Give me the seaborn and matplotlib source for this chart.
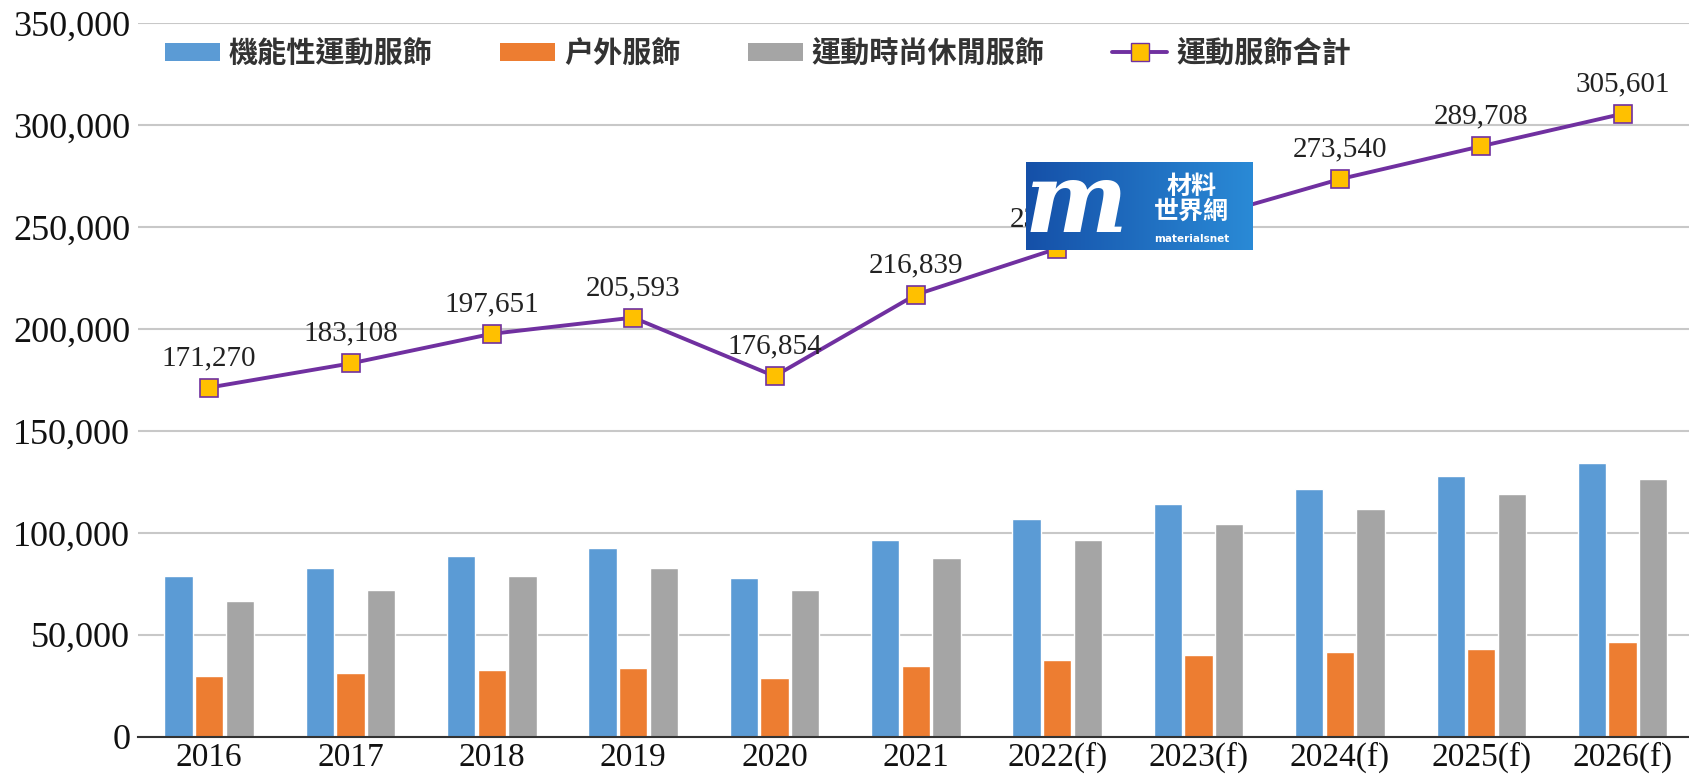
#!/usr/bin/env python3

import numpy as np
import pandas as pd
import matplotlib.pyplot as plt
from matplotlib.lines import Line2D
from matplotlib.patches import Patch
from matplotlib.colors import LinearSegmentedColormap
import seaborn as sns

# Data
years = ['2016', '2017', '2018', '2019', '2020', '2021',
         '2022(f)', '2023(f)', '2024(f)', '2025(f)', '2026(f)']
functional = [78700, 82800, 88500, 92500, 77900, 96400, 106900, 114100, 121500, 127900, 134400]
outdoor = [29500, 31100, 32800, 33600, 28900, 34400, 37700, 40000, 41600, 43100, 46400]
athleisure = [66600, 72100, 78700, 82800, 72100, 87700, 96400, 104400, 111600, 119000, 126200]
total = [171270, 183108, 197651, 205593, 176854, 216839, 239472, 253615, 273540, 289708, 305601]

series_names = ['機能性運動服飾', '户外服飾', '運動時尚休閒服飾']
total_name = '運動服飾合計'
colors = ['#5B9BD5', '#ED7D31', '#A5A5A5']

sns.set_theme(style="white")
plt.rcParams['font.family'] = ['Liberation Serif', 'Noto Sans CJK TC', 'DejaVu Sans']

df = pd.DataFrame({
    'year': years * 3,
    'series': [s for s in series_names for _ in years],
    'value': functional + outdoor + athleisure,
})

fig = plt.figure(figsize=(16.89, 7.77), dpi=100)
ax = fig.add_axes([0.082, 0.052, 0.918, 0.918])

sns.barplot(data=df, x='year', y='value', hue='series', hue_order=series_names,
            palette=colors, width=0.65, gap=0.08, saturation=1, ax=ax,
            legend=False, zorder=2)

x = np.arange(len(years))
sns.lineplot(x=x, y=total, color='#7030A0', linewidth=2.8, marker='s',
             markersize=13, markerfacecolor='#FFC000', markeredgecolor='#7030A0',
             markeredgewidth=1.2, ax=ax, zorder=4)

for xi, v in zip(x, total):
    ax.annotate(f'{v:,}', (xi, v), xytext=(0, 12), textcoords='offset points',
                ha='center', va='bottom', fontsize=21, color='#222222',
                family='Liberation Serif', zorder=5)

ax.set_ylim(0, 350000)
ax.set_xlim(-0.5, 10.47)
ax.set_yticks(range(0, 350001, 50000))
ax.yaxis.set_major_formatter(plt.FuncFormatter(lambda v, p: f'{int(v):,}'))
ax.tick_params(axis='y', labelsize=26, length=0, colors='#111111', pad=6)
ax.tick_params(axis='x', labelsize=24, length=0, colors='#111111', pad=4)
ax.set_xlabel('')
ax.set_ylabel('')
ax.grid(axis='y', color='#C8C8C8', linewidth=1.5, zorder=0)
ax.set_axisbelow(True)
for side in ['left', 'right', 'top']:
    ax.spines[side].set_visible(False)
ax.spines['bottom'].set_color('#333333')
ax.spines['bottom'].set_linewidth(1.5)

# Legend
handles = [Patch(facecolor=c, edgecolor='none') for c in colors]
handles.append(Line2D([0], [0], color='#7030A0', linewidth=2.8, marker='s',
                      markersize=13, markerfacecolor='#FFC000', markeredgecolor='#7030A0'))
leg = ax.legend(handles, series_names + [total_name], ncol=4, frameon=False,
                loc='upper left', bbox_to_anchor=(0.0, 1.016),
                prop={'family': 'Noto Sans CJK TC', 'size': 21, 'weight': 'bold'},
                handlelength=1.9, handleheight=0.6, columnspacing=2.3, handletextpad=0.3)
for t in leg.get_texts():
    t.set_color('#333333')

# Watermark logo box (gradient)
logo = fig.add_axes([0.6075, 0.678, 0.134, 0.113], zorder=10)
grad = np.linspace(0, 1, 256).reshape(1, -1)
cmap = LinearSegmentedColormap.from_list('logo', ['#1550A8', '#2A8AD6'])
logo.imshow(grad, aspect='auto', cmap=cmap, extent=[0, 1, 0, 1])
logo.set_axis_off()
logo.text(0.22, 0.52, 'm', fontsize=70, color='white', style='italic', weight='bold',
          family='DejaVu Serif', ha='center', va='center')
logo.text(0.73, 0.58, '材料\n世界網', fontsize=18, color='white', weight='bold',
          family='Noto Sans CJK TC', ha='center', va='center', linespacing=1.0)
logo.text(0.73, 0.13, 'materialsnet', fontsize=7.5, color='white', weight='bold',
          family='DejaVu Sans', ha='center', va='center')

plt.savefig('out.png', dpi=100)
